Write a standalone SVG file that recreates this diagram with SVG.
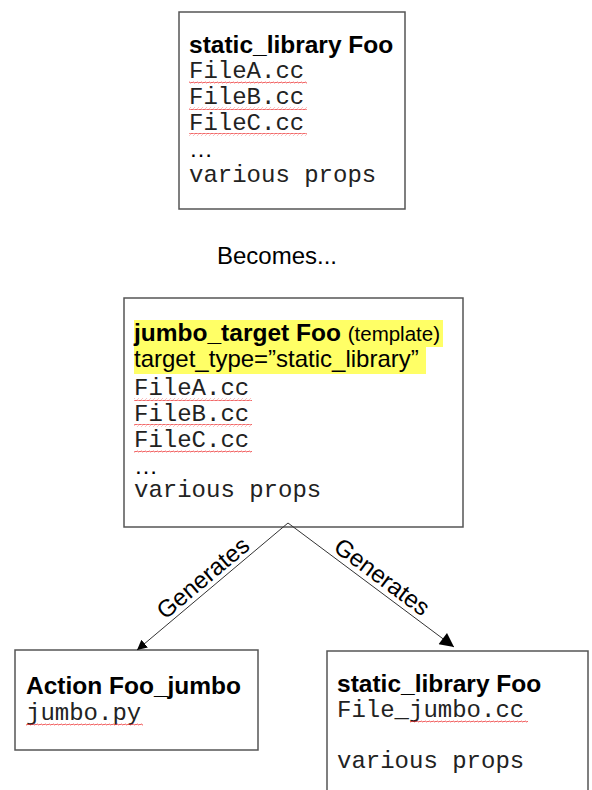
<svg xmlns="http://www.w3.org/2000/svg" width="592" height="790" viewBox="0 0 592 790">
<style>
.box{fill:#fff;stroke:#555;stroke-width:1.5}
.b{font-family:"Liberation Sans",Arial,sans-serif;font-weight:bold;font-size:24.5px;fill:#000}
.s{font-family:"Liberation Sans",Arial,sans-serif;font-size:24px;fill:#000}
.m{font-family:"Liberation Mono","Courier New",monospace;font-size:24px;fill:#222}
.hl{fill:#ffff66}
.sq{fill:url(#squig)}
.conn{stroke:#333;stroke-width:1;fill:none}
</style>
<defs>
<pattern id="squig" width="4" height="3" patternUnits="userSpaceOnUse">
<path d="M0,2 Q1,0 2,1.5 T4,1" fill="none" stroke="#e33" stroke-width="0.8"/>
</pattern>
<marker id="arrS" viewBox="0 0 10 10" refX="10" refY="5" markerWidth="10" markerHeight="10" markerUnits="userSpaceOnUse" orient="auto">
<path d="M0,0 L10,5 L0,10 z" fill="#000"/>
</marker>
<marker id="arrL" viewBox="0 0 10 10" refX="10" refY="5" markerWidth="17" markerHeight="14" markerUnits="userSpaceOnUse" orient="auto">
<path d="M0,0 L10,5 L0,10 z" fill="#000"/>
</marker>
</defs>
<rect width="592" height="790" fill="#fff"/>

<g id="node-static-library-top">
<rect class="box" x="179" y="12" width="226" height="197"/>
<text class="b" x="189" y="53">static_library Foo</text>
<text class="m" x="189" y="78">FileA.cc</text>
<rect class="sq" x="189" y="81" width="118" height="3"/>
<text class="m" x="189" y="104">FileB.cc</text>
<rect class="sq" x="189" y="107" width="118" height="3"/>
<text class="m" x="189" y="130">FileC.cc</text>
<rect class="sq" x="189" y="133" width="118" height="3"/>
<text class="s" x="189" y="157">…</text>
<text class="m" x="189" y="182">various props</text>
</g>

<g id="label-becomes">
<text class="s" x="277" y="264" text-anchor="middle">Becomes...</text>
</g>

<g id="node-jumbo-target">
<rect class="box" x="124" y="298" width="339" height="229"/>
<rect class="hl" x="134" y="320" width="309" height="27"/>
<rect class="hl" x="134" y="347" width="292" height="27"/>
<text class="b" x="134" y="341">jumbo_target Foo <tspan font-family="Liberation Sans, Arial, sans-serif" font-weight="normal" font-size="20.5">(template)</tspan></text>
<text class="s" x="134" y="367">target_type=”static_library”</text>
<text class="m" x="134" y="395">FileA.cc</text>
<rect class="sq" x="134" y="398" width="118" height="3"/>
<text class="m" x="134" y="421">FileB.cc</text>
<rect class="sq" x="134" y="424" width="118" height="3"/>
<text class="m" x="134" y="447">FileC.cc</text>
<rect class="sq" x="134" y="450" width="118" height="3"/>
<text class="s" x="134" y="474">…</text>
<text class="m" x="134" y="497">various props</text>
</g>

<g id="node-action">
<rect class="box" x="15" y="650" width="243" height="100"/>
<text class="b" x="26" y="694">Action Foo_jumbo</text>
<text class="m" x="26" y="720">jumbo.py</text>
<rect class="sq" x="26" y="723" width="117" height="3"/>
</g>

<g id="node-static-library-bottom">
<rect class="box" x="327" y="651" width="261" height="160"/>
<text class="b" x="337" y="692">static_library Foo</text>
<text class="m" x="337" y="717">File_jumbo.cc</text>
<rect class="sq" x="410" y="720" width="118" height="3"/>
<text class="m" x="337" y="768">various props</text>
</g>

<g id="connectors">
<line class="conn" x1="288" y1="523" x2="137" y2="650" marker-end="url(#arrS)"/>
<line class="conn" x1="288" y1="523" x2="454" y2="647" marker-end="url(#arrL)"/>
<text class="s" transform="translate(203,578) rotate(-40)" text-anchor="middle" dy="8">Generates</text>
<text class="s" transform="translate(382,577) rotate(36.7)" text-anchor="middle" dy="8">Generates</text>
</g>
</svg>
